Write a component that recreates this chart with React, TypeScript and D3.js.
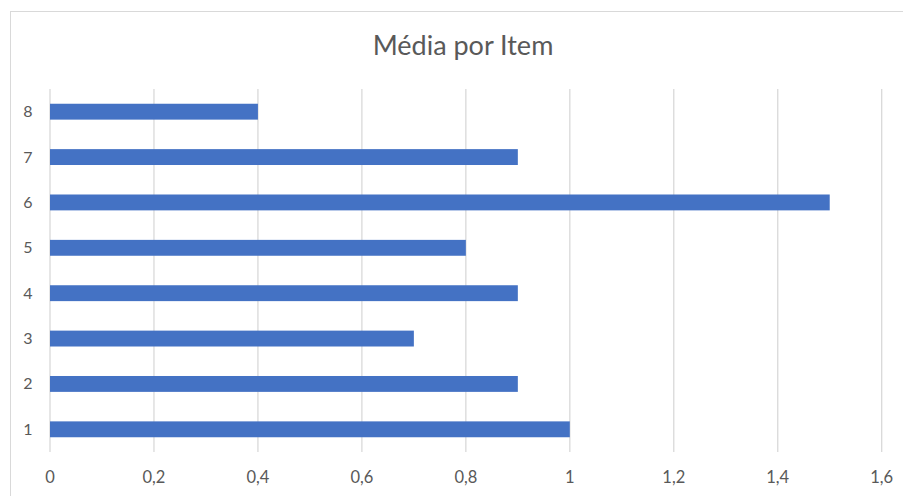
import React from "react";
import * as d3 from "d3";

const categories = ["1", "2", "3", "4", "5", "6", "7", "8"];
const values = [1.0, 0.9, 0.7, 0.9, 0.8, 1.5, 0.9, 0.4];
const xTicks = [0, 0.2, 0.4, 0.6, 0.8, 1, 1.2, 1.4, 1.6];
const title = "Média por Item";

const W = 903;
const H = 496;
const FONT = "Lato, 'Open Sans', sans-serif";

export default function App() {
  const x = d3.scaleLinear().domain([0, 1.6]).range([50, 881.7]);
  const y = d3
    .scaleBand<string>()
    .domain([...categories].reverse())
    .range([89, 452])
    .paddingInner(0.65)
    .paddingOuter(0.325);
  const fmt = (v: number) => String(v).replace(".", ",");

  return (
    <svg
      width={W}
      height={H}
      style={{ position: "absolute", left: 0, top: 0, background: "#fff" }}
    >
      <rect x={10.5} y={11.5} width={W} height={H} fill="#fff" stroke="#d9d9d9" strokeWidth={1} />
      <text
        x={463}
        y={55}
        textAnchor="middle"
        fontFamily={FONT}
        fontSize={27}
        fill="#595959"
      >
        {title}
      </text>
      {xTicks.map((t) => (
        <g key={t}>
          <line
            x1={x(t)}
            x2={x(t)}
            y1={89}
            y2={452}
            stroke="#d9d9d9"
            strokeWidth={1.3}
          />
          <text
            x={x(t)}
            y={483}
            textAnchor="middle"
            fontFamily={FONT}
            fontSize={16.5}
            fill="#595959"
          >
            {fmt(t)}
          </text>
        </g>
      ))}
      {categories.map((c, i) => (
        <g key={c}>
          <rect
            x={x(0)}
            y={y(c)}
            width={x(values[i]) - x(0)}
            height={y.bandwidth()}
            fill="#4472c4"
          />
          <text
            x={28}
            y={(y(c) ?? 0) + y.bandwidth() / 2 + 5.5}
            textAnchor="middle"
            fontFamily={FONT}
            fontSize={16}
            fill="#595959"
          >
            {c}
          </text>
        </g>
      ))}
    </svg>
  );
}
